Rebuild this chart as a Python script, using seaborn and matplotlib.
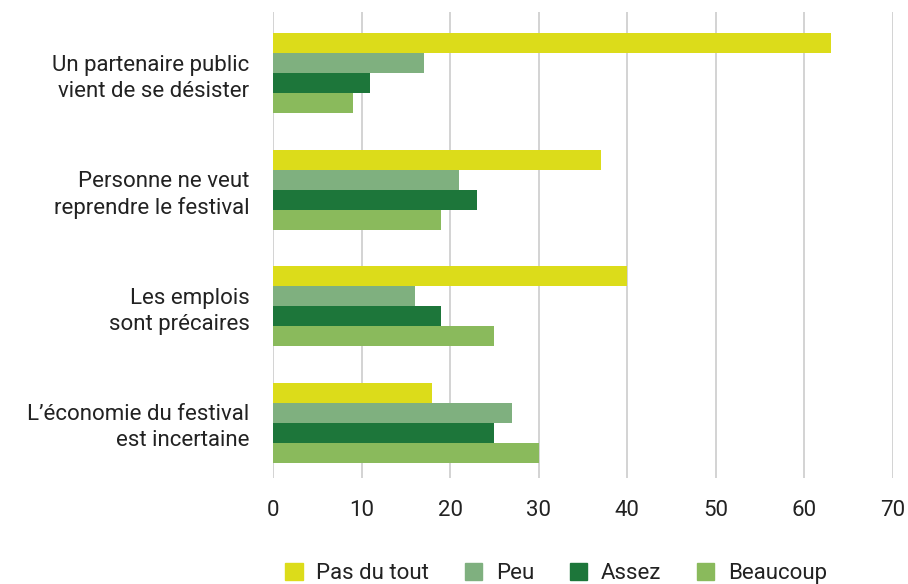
import pandas as pd
import matplotlib.pyplot as plt
import seaborn as sns

# Data
categories = ["Un partenaire public\nvient de se désister",
              "Personne ne veut\nreprendre le festival",
              "Les emplois\nsont précaires",
              "L’économie du festival\nest incertaine"]
levels = ["Pas du tout", "Peu", "Assez", "Beaucoup"]
pas_du_tout = [63, 37, 40, 18]
peu = [17, 21, 16, 27]
assez = [11, 23, 19, 25]
beaucoup = [9, 19, 25, 30]

colors = ["#dcdc1a", "#7fb07f", "#1d763a", "#8aba5c"]

rows = []
for lvl, vals in zip(levels, [pas_du_tout, peu, assez, beaucoup]):
    for cat, v in zip(categories, vals):
        rows.append({"Question": cat, "Niveau": lvl, "Valeur": v})
df = pd.DataFrame(rows)

sns.set_style("white")
plt.rcParams['font.family'] = ['Roboto', 'DejaVu Sans']

fig = plt.figure(figsize=(9.08, 5.84), dpi=100)
ax = fig.add_axes([0.3007, 0.182, 0.6826, 0.797])

sns.barplot(data=df, y="Question", x="Valeur", hue="Niveau", order=categories,
            hue_order=levels, palette=colors, orient="h", width=0.686,
            saturation=1, ax=ax, legend=False, linewidth=0)

ax.set_xlim(0, 70)
ax.set_ylim(3.47, -0.523)
ax.set_xticks(range(0, 71, 10))
ax.grid(axis="x", color="#cccccc", linewidth=1.2)
ax.set_axisbelow(True)
for s in ax.spines.values():
    s.set_visible(False)
ax.set_xlabel("")
ax.set_ylabel("")
ax.tick_params(axis="x", length=0, pad=16, labelsize=16, colors="#222222")
ax.tick_params(axis="y", length=0, pad=17, labelsize=16, colors="#222222")
for t in ax.get_yticklabels():
    t.set_horizontalalignment("right")
    t.set_multialignment("right")
    t.set_linespacing(1.3)

handles = [plt.Rectangle((0, 0), 1, 1, color=c) for c in colors]
fig.legend(handles, levels, loc="center left", bbox_to_anchor=(0.292, 0.018),
           ncol=4, frameon=False, fontsize=16, handlelength=0.8, handleheight=0.8,
           columnspacing=1.6, handletextpad=0.6, labelcolor="#222222")

fig.savefig("out.png", dpi=100)
